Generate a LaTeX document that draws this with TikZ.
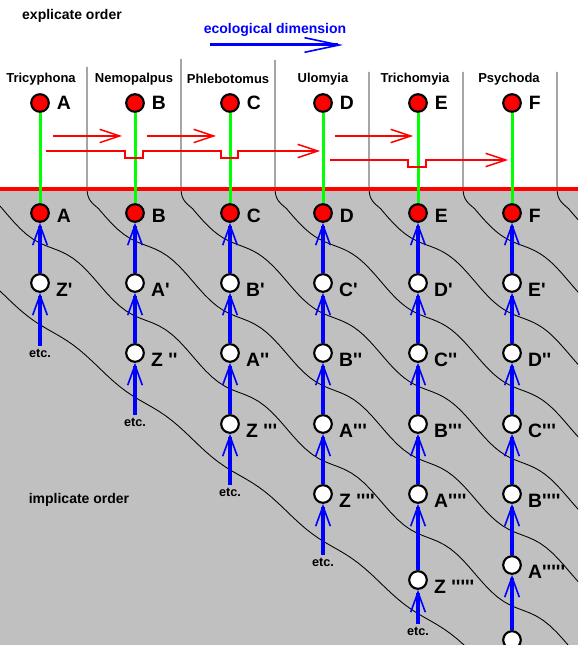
\documentclass[tikz,border=0pt]{standalone}
\usepackage{fontspec}
\setmainfont{Liberation Sans}[Ligatures=TeXOff]
\usetikzlibrary{arrows.meta,positioning}
\definecolor{implgrey}{RGB}{192,192,192}

\begin{document}
\begin{tikzpicture}[x=0.75pt,y=-0.75pt]
\tikzstyle{sp}=[font=\fontsize{9.75}{11}\selectfont\bfseries,inner sep=0pt]
\tikzstyle{ordertext}=[font=\fontsize{10.5}{12}\selectfont\bfseries,inner sep=0pt]
\tikzstyle{lab}=[font=\fontsize{14.5}{16}\selectfont\bfseries,inner sep=0pt]
\tikzstyle{etc}=[font=\fontsize{9.5}{10}\selectfont\bfseries,inner sep=2pt]
\tikzstyle{taxon}=[circle,draw=black,line width=1.6pt,fill=red,minimum size=13.2pt,inner sep=0pt]
\tikzstyle{anc}=[taxon,fill=white]
\tikzstyle{stem}=[draw=green,line width=2.25pt]
\tikzstyle{descent}=[draw=blue,line width=2.4pt,-{Straight Barb[length=15pt,width=11pt,line width=1.2pt]}]
\tikzstyle{drift}=[draw=red,line width=1.5pt,-{Straight Barb[length=15pt,width=10pt,line width=1.1pt]}]
\tikzstyle{wave}=[draw=black,line width=0.65pt]
\useasboundingbox (0,0) rectangle (578,645);
\clip (0,0) rectangle (578,645);
\fill[implgrey] (0,190) rectangle (578,645);
% separators and their lines in the implicate order
\foreach \s/\t in {87/67,181/59,275/60,369/72,463/72,557/72}
  \draw[wave] (\s,\t) -- (\s,188) .. controls (\s,200) and (\s+5,203) .. (\s+12,209) -- plot[domain=\s+12:590,samples=80] (\x,{200+0.77*(\x-\s)+6*sin(3.8298*(\x-5))});
\draw[wave] plot[domain=0:590,samples=90] (\x,{208+0.77*\x+6*sin(3.8298*(\x-5))});
\draw[wave] plot[domain=0:590,samples=90] (\x,{292+0.765*\x+3*sin(3.8298*(\x-5))});
\draw[red,line width=2.5pt] (0,189) -- (578,189);
% titles
\node[ordertext] (explicate) at (72,16) {explicate order};
\node[ordertext] (implicate) at (79,500) {implicate order};
\node[ordertext,blue] (ecodim) at (275,30) {ecological dimension};
\coordinate (dimtail) at (210,45); \coordinate (dimhead) at (343,45);
\draw[blue,line width=2.25pt,-{Straight Barb[length=26pt,width=11pt,line width=1.2pt]}] (dimtail) -- (dimhead);
% present-day genera
\foreach \x/\n in {41/Tricyphona,134/Nemopalpus,228/Phlebotomus,323/Ulomyia,415/Trichomyia,509/Psychoda}
  \node[sp] (\n) at (\x,79) {\n};
\foreach \i/\x/\l in {1/40/A,2/135/B,3/230/C,4/323/D,5/418/E,6/512/F} {
  \node[taxon] (t\i) at (\x,103) {};
  \node[lab,right=5pt of t\i] (tl\i) {\l};
  \node[taxon] (r\i) at (\x,213) {};
  \node[lab,right=5pt of r\i,yshift=-2pt] (rl\i) {\l};
  \draw[stem] (t\i) -- (r\i);
}
% shifts along the ecological dimension
\draw[drift] (53,136) -- (122,136);
\draw[drift] (147,136) -- (216,136);
\draw[drift] (335,136) -- (413,136);
\draw[drift] (46,151) -- (125,151) -- (125,158) -- (143,158) -- (143,151) -- (221,151) -- (221,158) -- (238,158) -- (238,151) -- (320,151);
\draw[drift] (330,160) -- (408,160) -- (408,167) -- (426,167) -- (426,160) -- (508,160);
% ancestors
\foreach \n/\x/\y/\t in {w11/40/283/{Z'},
  w21/135/283/{A'},w22/135/353/{Z ''},
  w31/230/283/{B'},w32/230/353/{A''},w33/230/424/{Z '''},
  w41/323/283/{C'},w42/323/353/{B''},w43/323/424/{A'''},w44/323/494/{Z ''''},
  w51/418/283/{D'},w52/418/353/{C''},w53/418/424/{B'''},w54/418/494/{A''''},w55/418/580/{Z '''''},
  w61/512/283/{E'},w62/512/353/{D''},w63/512/424/{C'''},w64/512/494/{B''''},w65/512/565/{A'''''},w66/512/640/{}} {
  \node[anc] (\n) at (\x,\y) {};
  \node[lab,right=4.5pt of \n,yshift=-5pt] (l\n) {\t};
}
\foreach \i/\x/\y in {1/40/353,2/135/422,3/230/492,4/323/562,5/418/631}
  \node[etc] (e\i) at (\x,\y) {etc.};
\foreach \a/\b in {e1/w11,w11/r1,
  e2/w22,w22/w21,w21/r2,
  e3/w33,w33/w32,w32/w31,w31/r3,
  e4/w44,w44/w43,w43/w42,w42/w41,w41/r4,
  e5/w55,w55/w54,w54/w53,w53/w52,w52/w51,w51/r5,
  w66/w65,w65/w64,w64/w63,w63/w62,w62/w61,w61/r6}
  \draw[descent] (\a) -- (\b);
\end{tikzpicture}
\end{document}
